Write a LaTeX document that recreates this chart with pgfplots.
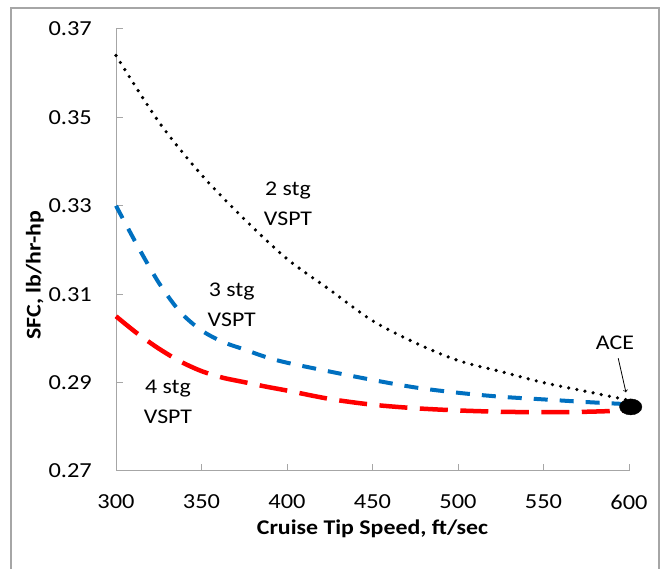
\documentclass[border=0pt]{standalone}
\usepackage{pgfplots}
\pgfplotsset{compat=1.18}
\usepackage{fontspec}
\setmainfont{Carlito}[FakeStretch=1.14]

\definecolor{axgray}{HTML}{A6A6A6}
\definecolor{vsptblue}{HTML}{0070C0}
\definecolor{vsptred}{HTML}{FF0000}

\begin{document}
\begin{tikzpicture}[x=1bp,y=1bp]
\useasboundingbox (0,0) rectangle (662,569);
% chart area border
\draw[axgray, line width=1.2bp] (11,-2) -- (11,561) -- (659,561) -- (659,-2);

\begin{axis}[
  at={(116bp,98bp)}, anchor=south west,
  scale only axis, width=513bp, height=442bp,
  xmin=300, xmax=600, ymin=0.27, ymax=0.37,
  xtick={300,350,...,600},
  ytick={0.27,0.29,0.31,0.33,0.35,0.37},
  axis x line*=bottom, axis y line*=left,
  axis line style={axgray, line width=1bp},
  every tick/.style={axgray, line width=1bp},
  tick align=inside, major tick length=7bp,
  /pgf/number format/assume math mode=true,
  yticklabel style={/pgf/number format/fixed, /pgf/number format/precision=2,
    /pgf/number format/fixed zerofill, anchor=east, inner sep=0pt, xshift=-24bp},
  ticklabel style={font=\fontsize{21.5}{21.5}\selectfont},
  xticklabel style={anchor=center, yshift=-31bp},
  xlabel={\bfseries Cruise Tip Speed, ft/sec},
  ylabel={\bfseries SFC, lb/hr-hp},
  label style={font=\fontsize{21}{21}\selectfont},
  xlabel style={at={(axis description cs:0.5,-0.131)}, anchor=center},
  ylabel style={at={(axis description cs:-0.158,0.443)}, anchor=center},
  clip=false,
]
% 2 stage VSPT
\addplot[black, line width=3.6bp, line cap=round, dash pattern=on 0bp off 8.3bp, smooth] coordinates {
  (300,0.364) (325,0.349) (350,0.337) (375,0.327) (400,0.318) (425,0.311)
  (450,0.304) (475,0.299) (500,0.295) (525,0.2925) (550,0.290) (575,0.288) (600,0.286)
};
% 3 stage VSPT
\addplot[vsptblue, line width=4bp, dash pattern=on 14bp off 12bp, smooth] coordinates {
  (300,0.3300) (312.5,0.3210) (325,0.3126) (337.5,0.3060) (350,0.3018)
  (362.5,0.2992) (375,0.2975) (387.5,0.2958) (400,0.2945) (425,0.2925)
  (450,0.2906) (475,0.2889) (500,0.2877) (525,0.2868) (550,0.2862)
  (575,0.2856) (600,0.2851)
};
% 4 stage VSPT
\addplot[vsptred, line width=4.5bp, dash pattern=on 28bp off 12.5bp, smooth] coordinates {
  (300,0.3050) (312.5,0.3011) (325,0.2977) (337.5,0.2948) (350,0.2926)
  (362.5,0.2911) (375,0.2901) (387.5,0.2891) (400,0.2882) (425,0.2863)
  (450,0.2850) (475,0.2842) (500,0.2837) (525,0.2834) (550,0.2833)
  (575,0.2834) (600,0.2837)
};
% ACE design point
\addplot[only marks, mark=*, mark size=8bp, mark options={black, fill=black, xscale=1.4}] coordinates {(601,0.2845)};

\node[font=\fontsize{21}{30}\selectfont, align=center] at (axis cs:400.6,0.3304) {2 stg\\VSPT};
\node[font=\fontsize{21}{30}\selectfont, align=center] at (axis cs:367.7,0.3076) {3 stg\\VSPT};
\node[font=\fontsize{21}{30}\selectfont, align=center] at (axis cs:330.4,0.2856) {4 stg\\VSPT};
\node[font=\fontsize{21}{21}\selectfont] at (axis cs:591.8,0.2989) {ACE};
\draw[->, black, line width=0.8bp] (axis cs:593.7,0.2955) -- (axis cs:598.2,0.2878);
\end{axis}
\end{tikzpicture}
\end{document}
